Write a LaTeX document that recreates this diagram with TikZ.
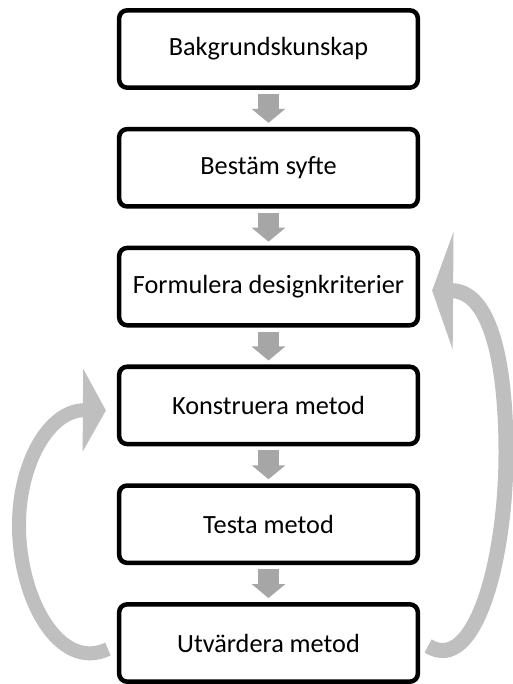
\documentclass[tikz,border=0pt]{standalone}
\usepackage{fontspec}
\setmainfont{Carlito}
\usetikzlibrary{arrows.meta}
\begin{document}
\begin{tikzpicture}[x=0.75pt,y=-0.75pt]
\newcommand{\xmid}{268.5}
\newcommand{\ystep}{118.8}
\definecolor{stepgray}{RGB}{166,166,166}
\definecolor{loopgray}{RGB}{191,191,191}
\tikzstyle{stage}=[draw,line width=3.4pt,rounded corners=6pt,minimum width=224pt,minimum height=58pt,inner sep=0pt,font=\fontsize{19.7pt}{24pt}\selectfont]
\tikzstyle{next}=[color=stepgray,line width=15.75pt,-{Triangle[width=24.75pt,length=10.5pt]},shorten <=3pt,shorten >=3pt]
\tikzstyle{backflow}=[color=loopgray]
\tikzstyle{backleft}=[backflow,line width=10.5pt,-{Triangle[width=61.5pt,length=17.25pt]}]
\tikzstyle{backright}=[backflow,line width=11.25pt,-{Triangle[width=87.75pt,length=15.75pt]}]
\useasboundingbox (0,0) rectangle (513,684);
\node[stage] (0) at (\xmid,49+\ystep*0) {Bakgrundskunskap};
\node[stage] (1) at (\xmid,49+\ystep*1) {Bestäm syfte};
\node[stage] (2) at (\xmid,49+\ystep*2) {Formulera designkriterier};
\node[stage] (3) at (\xmid,49+\ystep*3) {Konstruera metod};
\node[stage] (4) at (\xmid,49+\ystep*4) {Testa metod};
\node[stage] (5) at (\xmid,49+\ystep*5) {Utvärdera metod};
\draw[next] (0) edge (1);
\draw[next] (1) edge (2);
\draw[next] (2) edge (3);
\draw[next] (3) edge (4);
\draw[next] (4) edge (5);
\draw[backleft] ([shift={(-9,6)}]5.west) .. controls (60,672) and (19,600) .. (19,525)
  .. controls (19,462) and (50,410) .. ([shift={(-11,5)}]3.west);
\draw[backright] ([shift={(8,3)}]5.east) .. controls (475,675) and (506,560) .. (506,453)
  .. controls (506,355) and (488,291) .. ([shift={(12,4)}]2.east);
\end{tikzpicture}
\end{document}
